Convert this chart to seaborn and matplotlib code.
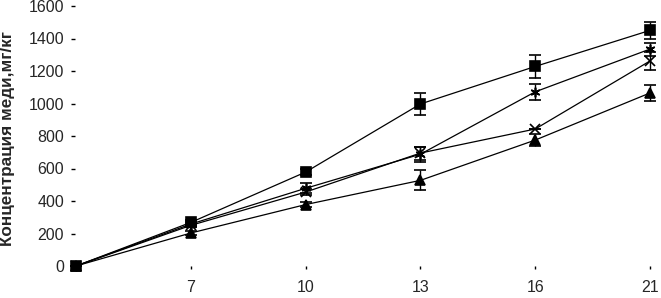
import numpy as np
import pandas as pd
import seaborn as sns
import matplotlib.pyplot as plt

# days of sampling (category 0 has no label on the axis)
days = ['0', '7', '10', '13', '16', '21']
tick_labels = ['', '7', '10', '13', '16', '21']

# copper concentration, mg/kg, for each of the four variants
squares = [0, 268, 578, 997, 1228, 1450]
squares_err = [0, 15, 20, 68, 70, 50]
stars = [0, 258, 478, 688, 1072, 1335]
stars_err = [0, 12, 30, 45, 50, 40]
crosses = [0, 250, 455, 695, 843, 1262]
crosses_err = [0, 10, 20, 40, 0, 55]
triangles = [0, 203, 378, 527, 775, 1065]
triangles_err = [0, 15, 15, 62, 38, 50]

series = [(squares, squares_err, 's'), (stars, stars_err, (6, 2, 0)),
          (crosses, crosses_err, 'x'), (triangles, triangles_err, '^')]
pos = np.arange(len(days))

sns.set_style('white')
plt.rcParams['font.family'] = ['Liberation Sans', 'DejaVu Sans']

fig = plt.figure(figsize=(6.61, 2.98), dpi=100)
ax = fig.add_axes([75 / 661, 32 / 298, 580 / 661, 260 / 298])

# error bars first, then lines with markers on top
for vals, errs, m in series:
    ax.errorbar(pos, vals, yerr=errs, fmt='none', ecolor='black',
                elinewidth=1, capsize=4, capthick=1.2, clip_on=False)
    sns.lineplot(x=pos, y=vals, color='black', linewidth=0.9, marker=m,
                 markersize=7, markeredgecolor='black', markerfacecolor='black',
                 markeredgewidth=1.2, ax=ax)

for art in ax.get_children():
    art.set_clip_on(False)

ax.set_xlim(-1 / 116, 5 + 5 / 116)
ax.set_ylim(0, 1600)
ax.set_yticks(range(0, 1601, 200))
ax.set_xticks(pos)
ax.set_xticklabels(tick_labels)
ax.tick_params(axis='y', direction='out', length=3, width=1, pad=5,
               labelsize=11.5, left=True, color='black')
ax.tick_params(axis='x', direction='out', length=2, width=1, pad=8,
               labelsize=11.5, bottom=True, color='black')
for s in ax.spines.values():
    s.set_visible(False)

ax.set_xlabel('')
ax.set_ylabel('Концентрация меди,мг/кг', fontsize=12.3, fontweight='bold')
ax.yaxis.set_label_coords(-0.104, 0.49)

fig.savefig('out.png', dpi=100)
